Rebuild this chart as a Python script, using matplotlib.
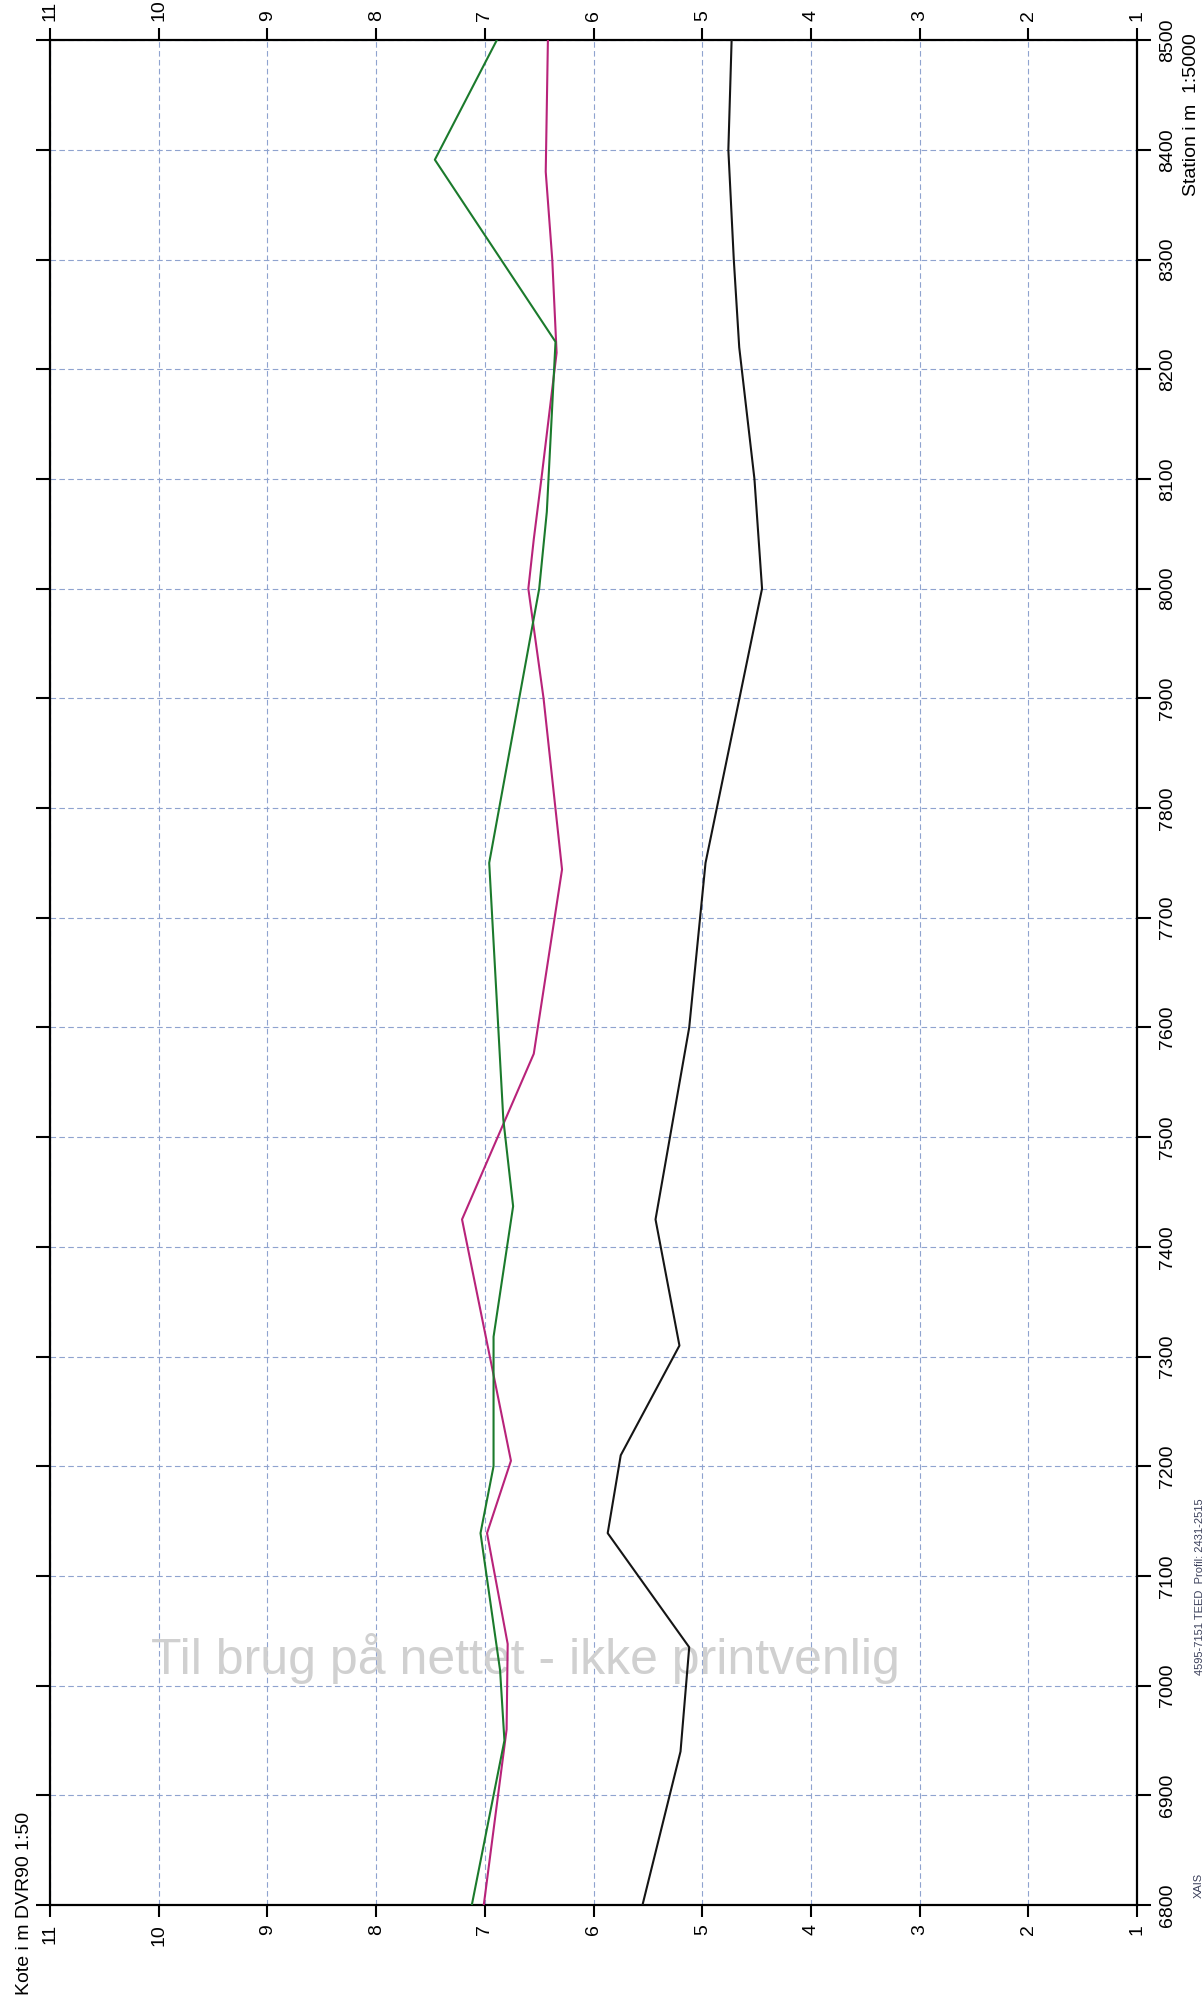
import matplotlib
matplotlib.use("Agg")
import matplotlib.pyplot as plt
from matplotlib import font_manager
from matplotlib.transforms import blended_transform_factory

# Profil: stationering (m) og koter (m DVR90)
station_sort = [6800, 6940, 7035, 7139, 7210, 7310, 7425, 7600, 7750, 8000, 8100, 8220, 8300, 8400, 8500]
kote_sort = [5.55, 5.20, 5.12, 5.87, 5.75, 5.21, 5.43, 5.12, 4.97, 4.45, 4.52, 4.66, 4.71, 4.76, 4.73]

station_magenta = [6800, 6960, 7038, 7139, 7205, 7425, 7576, 7744, 7900, 8000, 8045, 8100, 8215, 8300, 8380, 8500]
kote_magenta = [7.01, 6.80, 6.79, 6.98, 6.76, 7.21, 6.55, 6.29, 6.46, 6.60, 6.55, 6.48, 6.34, 6.38, 6.44, 6.42]

station_gron = [6800, 6950, 7014, 7139, 7200, 7318, 7437, 7516, 7624, 7750, 8000, 8070, 8225, 8391, 8500]
kote_gron = [7.12, 6.82, 6.86, 7.04, 6.92, 6.92, 6.74, 6.83, 6.89, 6.96, 6.50, 6.43, 6.35, 7.46, 6.89]

kote_ticks = list(range(1, 12))
station_ticks = list(range(6800, 8501, 100))

navne = {f.name for f in font_manager.fontManager.ttflist}
skrift = "Liberation Sans" if "Liberation Sans" in navne else "DejaVu Sans"
plt.rcParams["font.family"] = skrift

fig = plt.figure(figsize=(12.03, 20.07), dpi=100)
ax = fig.add_axes([0.0416, 0.0508, 0.9036, 0.9292])

ax.plot(kote_sort, station_sort, color="#151515", lw=1.5, zorder=3)
ax.plot(kote_magenta, station_magenta, color="#b8237a", lw=1.5, zorder=4)
ax.plot(kote_gron, station_gron, color="#1b7a2c", lw=1.5, zorder=4)

ax.set_xlim(11, 1)
ax.set_ylim(6800, 8500)
ax.set_xticks(kote_ticks)
ax.set_yticks(station_ticks)
ax.set_xticklabels([str(k) for k in kote_ticks])
ax.set_yticklabels([str(s) for s in station_ticks])

ax.grid(True, color="#8fa3cf", lw=0.8, linestyle=(0, (5, 3)), zorder=1)

for sp in ax.spines.values():
    sp.set_linewidth(1.6)
    sp.set_color("black")

ax.tick_params(axis="x", bottom=True, top=True, labelbottom=True, labeltop=True,
               direction="out", length=8.5, width=1.5, labelsize=14, labelrotation=90, pad=5)
ax.tick_params(axis="y", left=True, right=True, labelleft=False, labelright=True,
               direction="out", length=10, width=1.5, labelsize=14, labelrotation=90, pad=6)
for lbl in ax.get_yticklabels():
    lbl.set_va("center")

# aksetekster
fig.text(25 / 1203, 1 - 1903 / 2007, "Kote i m DVR90 1:50", rotation=90,
         ha="center", va="center", fontsize=14)
trans = blended_transform_factory(fig.transFigure, ax.transData)
ax.text(1191 / 1203, 8432, "Station i m  1:5000", rotation=90, ha="center", va="center",
        fontsize=14, transform=trans, clip_on=False)

# fodnote i kanten
fig.text(1199 / 1203, 1 - 1885 / 2007, "XAIS", rotation=90, ha="center", va="center",
         fontsize=8, color="#3a3f5a")
fig.text(1199 / 1203, 1 - 1587 / 2007, "4595-7151 TEED_Profil: 2431-2515", rotation=90,
         ha="center", va="center", fontsize=8, color="#3a3f5a")

# vandmærke
ax.text(525 / 1203, 1 - 1658 / 2007, "Til brug på nettet - ikke printvenlig",
        transform=fig.transFigure, ha="center", va="center", fontsize=36,
        color="#d0d0d0", zorder=2)

fig.savefig("out.png", dpi=100)
